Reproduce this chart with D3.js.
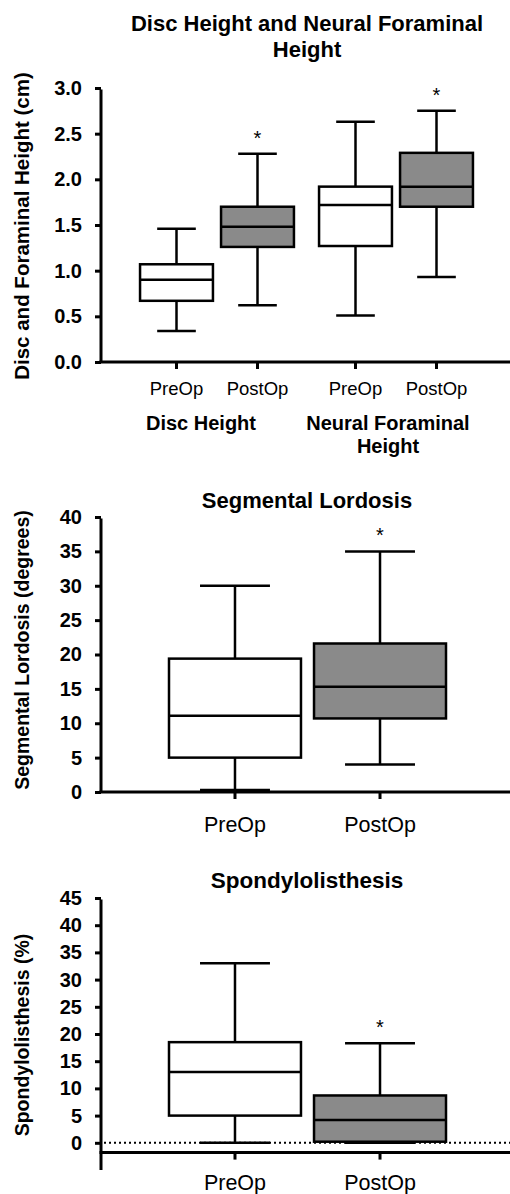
<!DOCTYPE html>
<html>
<head>
<meta charset="utf-8">
<script src="https://cdn.jsdelivr.net/npm/d3@7"></script>
<style>
  body { margin: 0; background: #fff; }
  svg { display: block; font-family: 'Liberation Sans', Arial, sans-serif; }
</style>
</head>
<body>
<div id="chart-container"></div>
<script>
// panel 1: disc height and neural foraminal height (cm)
const heightGroups = ['Disc Height', 'Neural Foraminal Height'];
const heightGroupLines = [['Disc Height'], ['Neural Foraminal', 'Height']];
const timepoints = ['PreOp', 'PostOp'];
const heightMin = [[0.34, 0.62], [0.51, 0.93]];
const heightQ1 = [[0.67, 1.26], [1.27, 1.70]];
const heightMedian = [[0.90, 1.48], [1.72, 1.92]];
const heightQ3 = [[1.07, 1.70], [1.92, 2.29]];
const heightMax = [[1.46, 2.28], [2.63, 2.75]];
const heightSig = [[false, true], [false, true]];
const heightTicks = [0, 0.5, 1.0, 1.5, 2.0, 2.5, 3.0];

// panel 2: segmental lordosis (degrees)
const lordosisMin = [0.3, 4.0];
const lordosisQ1 = [5.0, 10.7];
const lordosisMedian = [11.1, 15.3];
const lordosisQ3 = [19.4, 21.6];
const lordosisMax = [30.0, 35.0];
const lordosisSig = [false, true];
const lordosisTicks = [0, 5, 10, 15, 20, 25, 30, 35, 40];

// panel 3: spondylolisthesis (%)
const spondyMin = [0.0, 0.0];
const spondyQ1 = [5.0, 0.2];
const spondyMedian = [13.0, 4.2];
const spondyQ3 = [18.5, 8.7];
const spondyMax = [33.0, 18.3];
const spondySig = [false, true];
const spondyTicks = [0, 5, 10, 15, 20, 25, 30, 35, 40, 45];

const W = 510, H = 1194;
const axisX = 101;
const gray = '#8a8a8a';

const svg = d3.select('#chart-container').append('svg')
  .attr('width', W).attr('height', H);

function yAxisPanel(g, y, ticks, fmt, lineFrom, lineTo, fontSize) {
  const ax = g.append('g')
    .attr('transform', `translate(${axisX},0)`)
    .call(d3.axisLeft(y).tickValues(ticks).tickFormat(fmt).tickSize(6).tickPadding(13));
  ax.select('.domain').remove();
  ax.selectAll('.tick line').attr('stroke', '#000').attr('stroke-width', 3);
  ax.selectAll('.tick text')
    .attr('fill', '#000')
    .style('font-size', fontSize + 'px')
    .style('font-weight', 'bold')
    .style('font-family', "'Liberation Sans', Arial, sans-serif");
  g.append('line')
    .attr('x1', axisX).attr('x2', axisX)
    .attr('y1', y(lineFrom)).attr('y2', y(lineTo) + 1.5)
    .attr('stroke', '#000').attr('stroke-width', 3);
}

function xAxisLine(g, yPos, centers) {
  g.append('line')
    .attr('x1', axisX - 1.5).attr('x2', W)
    .attr('y1', yPos).attr('y2', yPos)
    .attr('stroke', '#000').attr('stroke-width', 3);
  g.selectAll('line.xtick').data(centers).enter().append('line')
    .attr('class', 'xtick')
    .attr('x1', d => d).attr('x2', d => d)
    .attr('y1', yPos).attr('y2', yPos + 7)
    .attr('stroke', '#000').attr('stroke-width', 3);
}

function drawBox(g, y, cx, bw, s, fill) {
  const capW = bw * 0.53;
  // whiskers
  g.append('line')
    .attr('x1', cx).attr('x2', cx)
    .attr('y1', y(s.max)).attr('y2', y(s.q3))
    .attr('stroke', '#000').attr('stroke-width', 2.5);
  g.append('line')
    .attr('x1', cx).attr('x2', cx)
    .attr('y1', y(s.q1)).attr('y2', y(s.min))
    .attr('stroke', '#000').attr('stroke-width', 2.5);
  [s.max, s.min].forEach(v => {
    g.append('line')
      .attr('x1', cx - capW / 2).attr('x2', cx + capW / 2)
      .attr('y1', y(v)).attr('y2', y(v))
      .attr('stroke', '#000').attr('stroke-width', 2.5);
  });
  g.append('rect')
    .attr('x', cx - bw / 2).attr('width', bw)
    .attr('y', y(s.q3)).attr('height', y(s.q1) - y(s.q3))
    .attr('fill', fill).attr('stroke', '#000').attr('stroke-width', 2.5);
  g.append('line')
    .attr('x1', cx - bw / 2).attr('x2', cx + bw / 2)
    .attr('y1', y(s.median)).attr('y2', y(s.median))
    .attr('stroke', '#000').attr('stroke-width', 2.5);
  if (s.sig) {
    g.append('text')
      .attr('x', cx).attr('y', y(s.max) - 9)
      .attr('text-anchor', 'middle')
      .style('font-size', '20px')
      .text('*');
  }
}

function yLabel(g, text, cy, fontSize) {
  g.append('text')
    .attr('transform', `translate(29,${cy}) rotate(-90)`)
    .attr('text-anchor', 'middle')
    .style('font-size', fontSize + 'px')
    .style('font-weight', 'bold')
    .text(text);
}

function title(g, lines, baseline, fontSize) {
  lines.forEach((t, i) => {
    g.append('text')
      .attr('x', 307).attr('y', baseline + i * 26)
      .attr('text-anchor', 'middle')
      .style('font-size', fontSize + 'px')
      .style('font-weight', 'bold')
      .text(t);
  });
}

// ---------- panel 1 ----------
{
  const g = svg.append('g');
  const y = d3.scaleLinear().domain([0, 3]).range([362, 88]);
  const outer = d3.scaleBand().domain(heightGroups).range([136, 477]).paddingInner(0.095);
  const inner = d3.scaleBand().domain(timepoints).range([0, outer.bandwidth()]);
  const bw = inner.bandwidth() * 0.9;

  title(g, ['Disc Height and Neural Foraminal', 'Height'], 31, 22);
  yAxisPanel(g, y, heightTicks, d3.format('.1f'), 0, 3, 20);
  yLabel(g, 'Disc and Foraminal Height (cm)', 226, 20.5);

  const centers = [];
  heightGroups.forEach((grp, gi) => {
    timepoints.forEach((tp, ti) => {
      const cx = outer(grp) + inner(tp) + inner.bandwidth() / 2;
      centers.push(cx);
      drawBox(g, y, cx, bw, {
        min: heightMin[gi][ti], q1: heightQ1[gi][ti], median: heightMedian[gi][ti],
        q3: heightQ3[gi][ti], max: heightMax[gi][ti], sig: heightSig[gi][ti]
      }, ti === 0 ? '#fff' : gray);
      g.append('text')
        .attr('x', cx).attr('y', 395)
        .attr('text-anchor', 'middle')
        .style('font-size', '18.5px')
        .text(tp);
    });
    heightGroupLines[gi].forEach((t, li) => {
      g.append('text')
        .attr('x', outer(grp) + outer.bandwidth() / 2 - (gi === 0 ? 16 : 8))
        .attr('y', 430 + li * 23)
        .attr('text-anchor', 'middle')
        .style('font-size', '20px')
        .style('font-weight', 'bold')
        .text(t);
    });
  });
  xAxisLine(g, y(0), centers);
}

// ---------- panel 2 ----------
{
  const g = svg.append('g');
  const y = d3.scaleLinear().domain([0, 40]).range([792, 517]);
  const x = d3.scaleBand().domain(timepoints).range([169, 446]).paddingInner(0.09);
  const bw = x.bandwidth();

  title(g, ['Segmental Lordosis'], 508, 22);
  yAxisPanel(g, y, lordosisTicks, d3.format('d'), 0, 40, 20);
  yLabel(g, 'Segmental Lordosis (degrees)', 650, 19.5);

  const centers = timepoints.map(tp => x(tp) + bw / 2);
  timepoints.forEach((tp, i) => {
    drawBox(g, y, centers[i], bw, {
      min: lordosisMin[i], q1: lordosisQ1[i], median: lordosisMedian[i],
      q3: lordosisQ3[i], max: lordosisMax[i], sig: lordosisSig[i]
    }, i === 0 ? '#fff' : gray);
    g.append('text')
      .attr('x', centers[i]).attr('y', 832)
      .attr('text-anchor', 'middle')
      .style('font-size', '21.5px')
      .text(tp);
  });
  xAxisLine(g, y(0), centers);
}

// ---------- panel 3 ----------
{
  const g = svg.append('g');
  const y = d3.scaleLinear().domain([-5, 45]).range([1170, 898]);
  const x = d3.scaleBand().domain(timepoints).range([169, 446]).paddingInner(0.09);
  const bw = x.bandwidth();

  title(g, ['Spondylolisthesis'], 888, 22.5);
  yAxisPanel(g, y, spondyTicks, d3.format('d'), -5, 45, 20);
  yLabel(g, 'Spondylolisthesis (%)', 1035, 19.5);

  // reference line at zero
  g.append('line')
    .attr('x1', axisX + 3).attr('x2', W)
    .attr('y1', y(0)).attr('y2', y(0))
    .attr('stroke', '#000').attr('stroke-width', 2)
    .attr('stroke-dasharray', '2,3');

  const centers = timepoints.map(tp => x(tp) + bw / 2);
  timepoints.forEach((tp, i) => {
    drawBox(g, y, centers[i], bw, {
      min: spondyMin[i], q1: spondyQ1[i], median: spondyMedian[i],
      q3: spondyQ3[i], max: spondyMax[i], sig: spondySig[i]
    }, i === 0 ? '#fff' : gray);
    g.append('text')
      .attr('x', centers[i]).attr('y', 1190)
      .attr('text-anchor', 'middle')
      .style('font-size', '21.5px')
      .text(tp);
  });
  xAxisLine(g, y(-1.8), centers);
}
</script>
</body>
</html>
